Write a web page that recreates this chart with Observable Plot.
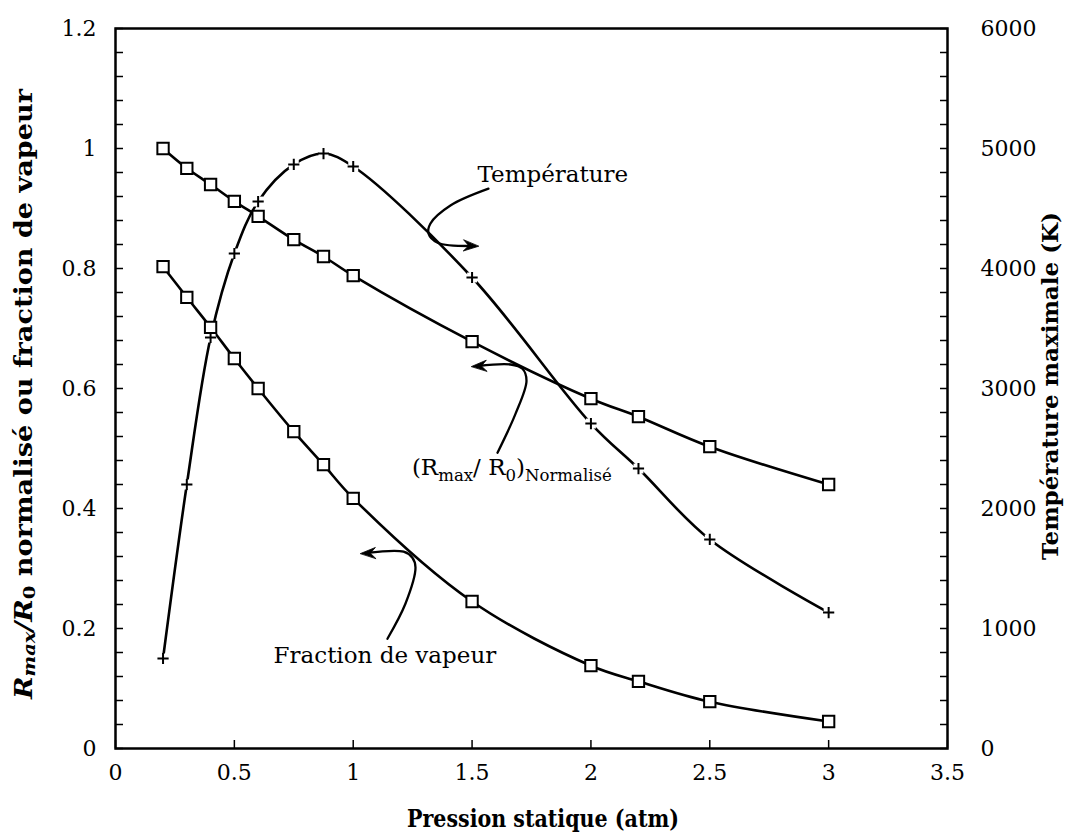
<!DOCTYPE html>
<html><head><meta charset="utf-8">
<script src="https://cdn.jsdelivr.net/npm/d3@7"></script>
<script src="https://cdn.jsdelivr.net/npm/@observablehq/plot@0.6"></script>
<style>body{margin:0;background:#fff}</style>
</head><body><div id="chart"></div>
<script>
// ---- data ----
const pression = [0.2, 0.3, 0.4, 0.5, 0.6, 0.75, 0.875, 1.0, 1.5, 2.0, 2.2, 2.5, 3.0];
const rmaxNormalise = [1.0, 0.967, 0.94, 0.912, 0.887, 0.848, 0.82, 0.788, 0.678, 0.583, 0.553, 0.503, 0.44];
const fractionVapeur = [0.803, 0.752, 0.702, 0.65, 0.6, 0.528, 0.473, 0.417, 0.245, 0.138, 0.112, 0.078, 0.045];
const temperatureMax = [750, 2200, 3425, 4125, 4558, 4867, 4958, 4850, 3925, 2708, 2333, 1742, 1133];

const xTicks = [0, 0.5, 1, 1.5, 2, 2.5, 3, 3.5];
const yTicksLeft = d3.range(0, 1.2001, 0.04).map(v => +v.toFixed(2));
const tempMax = 6000, leftMax = 1.2;

// annotation leader paths (data units) and labels
const annTemperaturePath = [[1.569,0.933],[1.409,0.905],[1.325,0.875],[1.317,0.858],[1.355,0.843],[1.50,0.8375]];
const annRmaxPath = [[1.607,0.493],[1.683,0.558],[1.729,0.613],[1.712,0.633],[1.662,0.64],[1.525,0.6375]];
const annFractionPath = [[1.144,0.183],[1.22,0.2417],[1.262,0.3017],[1.249,0.318],[1.212,0.328],[1.058,0.326]];
const annTips = [
  {x: 1.527, y: 0.837, rotate: 93},
  {x: 1.498, y: 0.6367, rotate: 267},
  {x: 1.031, y: 0.325, rotate: 268}
];
const annLabels = [
  {x: 1.523, y: 0.9557, text: "Température"},
  {x: 0.665, y: 0.154, text: "Fraction de vapeur"}
];
const annRmaxLabel = {x: 1.249, y: 0.455};

const data = pression.map((p, i) => ({p, r: rmaxNormalise[i], f: fractionVapeur[i], t: temperatureMax[i]}));
const tY = d => d.t * leftMax / tempMax;

const FONT = "'DejaVu Serif', serif";
const FS = 22;

const isMajor = v => Math.abs(v * 5 - Math.round(v * 5)) < 1e-6;
const stealth = {draw(ctx, l) { ctx.moveTo(0, -l); ctx.lineTo(5.5, 0); ctx.lineTo(0, -l * 0.35); ctx.lineTo(-5.5, 0); ctx.closePath(); }};
const pathOf = arr => arr.map(([x, y]) => ({x, y}));

const plot = Plot.plot({
  width: 1065, height: 832,
  marginLeft: 115, marginRight: 118, marginTop: 28, marginBottom: 84,
  x: {domain: [0, 3.5]},
  y: {domain: [0, leftMax]},
  style: {fontFamily: FONT, fontSize: FS + "px", color: "#000", background: "#fff", overflow: "visible"},
  marks: [
    Plot.axisX({ticks: xTicks, tickSize: -8, tickPadding: 24, strokeWidth: 1.5, tickFormat: d => String(d), label: null, fontSize: FS}),
    Plot.axisY({anchor: "left", ticks: yTicksLeft, tickSize: -8, tickPadding: 27, strokeWidth: 1.5,
      tickFormat: v => isMajor(v) ? String(+v.toFixed(1)) : "", label: null, fontSize: FS}),
    Plot.axisY({anchor: "right", ticks: yTicksLeft, tickSize: -8, tickPadding: 41, strokeWidth: 1.5,
      tickFormat: v => isMajor(v) ? String(Math.round(v * tempMax / leftMax)) : "", label: null, fontSize: FS}),
    Plot.frame({stroke: "#000", strokeWidth: 2.5}),
    // series lines
    Plot.line(data, {x: "p", y: "r", curve: "catmull-rom", stroke: "#000", strokeWidth: 2.6}),
    Plot.line(data, {x: "p", y: "f", curve: "catmull-rom", stroke: "#000", strokeWidth: 2.6}),
    Plot.line(data, {x: "p", y: tY, curve: "catmull-rom", stroke: "#000", strokeWidth: 2.6}),
    // gaps behind + markers
    Plot.dot(data, {x: "p", y: tY, symbol: "square", r: 5.6, fill: "#fff", stroke: "none"}),
    Plot.dot(data, {x: "p", y: tY, symbol: "plus", r: 3.7, stroke: "#000", strokeWidth: 2}),
    Plot.dot(data, {x: "p", y: "r", symbol: "square", r: 6.4, fill: "#fff", stroke: "#000", strokeWidth: 2}),
    Plot.dot(data, {x: "p", y: "f", symbol: "square", r: 6.4, fill: "#fff", stroke: "#000", strokeWidth: 2}),
    // annotations
    Plot.line(pathOf(annTemperaturePath), {x: "x", y: "y", curve: "catmull-rom", stroke: "#000", strokeWidth: 2.3}),
    Plot.line(pathOf(annRmaxPath), {x: "x", y: "y", curve: "catmull-rom", stroke: "#000", strokeWidth: 2.3}),
    Plot.line(pathOf(annFractionPath), {x: "x", y: "y", curve: "catmull-rom", stroke: "#000", strokeWidth: 2.3}),
    Plot.vector(annTips, {x: "x", y: "y", rotate: "rotate", length: 15, anchor: "end", shape: stealth, fill: "#000", stroke: "#000", strokeWidth: 0.8}),
    Plot.text(annLabels, {x: "x", y: "y", text: "text", textAnchor: "start", lineAnchor: "middle", fontSize: 23, fill: "#000"})
  ]
});

document.getElementById("chart").appendChild(plot);

// rich text: titles and subscript annotation
const svg = d3.select(plot);
const sx = plot.scale("x"), sy = plot.scale("y");
const sub = (sel, txt, dy, it) => sel.append("tspan").attr("font-size", "0.72em").attr("dy", dy).attr("font-style", it ? "italic" : null).text(txt);

// (Rmax/R0)Normalisé
{
  const t = svg.append("text").attr("x", sx.apply(annRmaxLabel.x)).attr("y", sy.apply(annRmaxLabel.y))
    .attr("text-anchor", "start")
    .attr("font-family", FONT).attr("font-size", 23).attr("fill", "#000");
  t.append("tspan").text("(R");
  sub(t, "max", 6);
  t.append("tspan").attr("dy", -6).text("/ R");
  sub(t, "0", 6);
  t.append("tspan").attr("dy", -6).text(")");
  sub(t, "Normalisé", 6);
}
// left title
{
  const t = svg.append("text").attr("transform", "translate(23,394) rotate(-90)")
    .attr("text-anchor", "middle").attr("dominant-baseline", "central")
    .attr("textLength", 610).attr("lengthAdjust", "spacingAndGlyphs")
    .attr("font-family", FONT).attr("font-size", 24).attr("font-weight", "bold").attr("fill", "#000");
  t.append("tspan").attr("font-style", "italic").text("R");
  sub(t, "max", 6, true);
  t.append("tspan").attr("dy", -6).attr("font-style", "italic").text("/R");
  sub(t, "0", 6);
  t.append("tspan").attr("dy", -6).text(" normalisé ou fraction de vapeur");
}
// right title
svg.append("text").attr("transform", "translate(1049,386) rotate(-90)")
  .attr("text-anchor", "middle").attr("dominant-baseline", "central")
  .attr("textLength", 348).attr("lengthAdjust", "spacingAndGlyphs")
  .attr("font-family", FONT).attr("font-size", 23).attr("font-weight", "bold").attr("fill", "#000")
  .text("Température maximale (K)");
// bottom title
svg.append("text").attr("x", 543).attr("y", 818)
  .attr("text-anchor", "middle").attr("dominant-baseline", "central")
  .attr("textLength", 272).attr("lengthAdjust", "spacingAndGlyphs")
  .attr("font-family", FONT).attr("font-size", 24).attr("font-weight", "bold").attr("fill", "#000")
  .text("Pression statique (atm)");
</script>
</body></html>
